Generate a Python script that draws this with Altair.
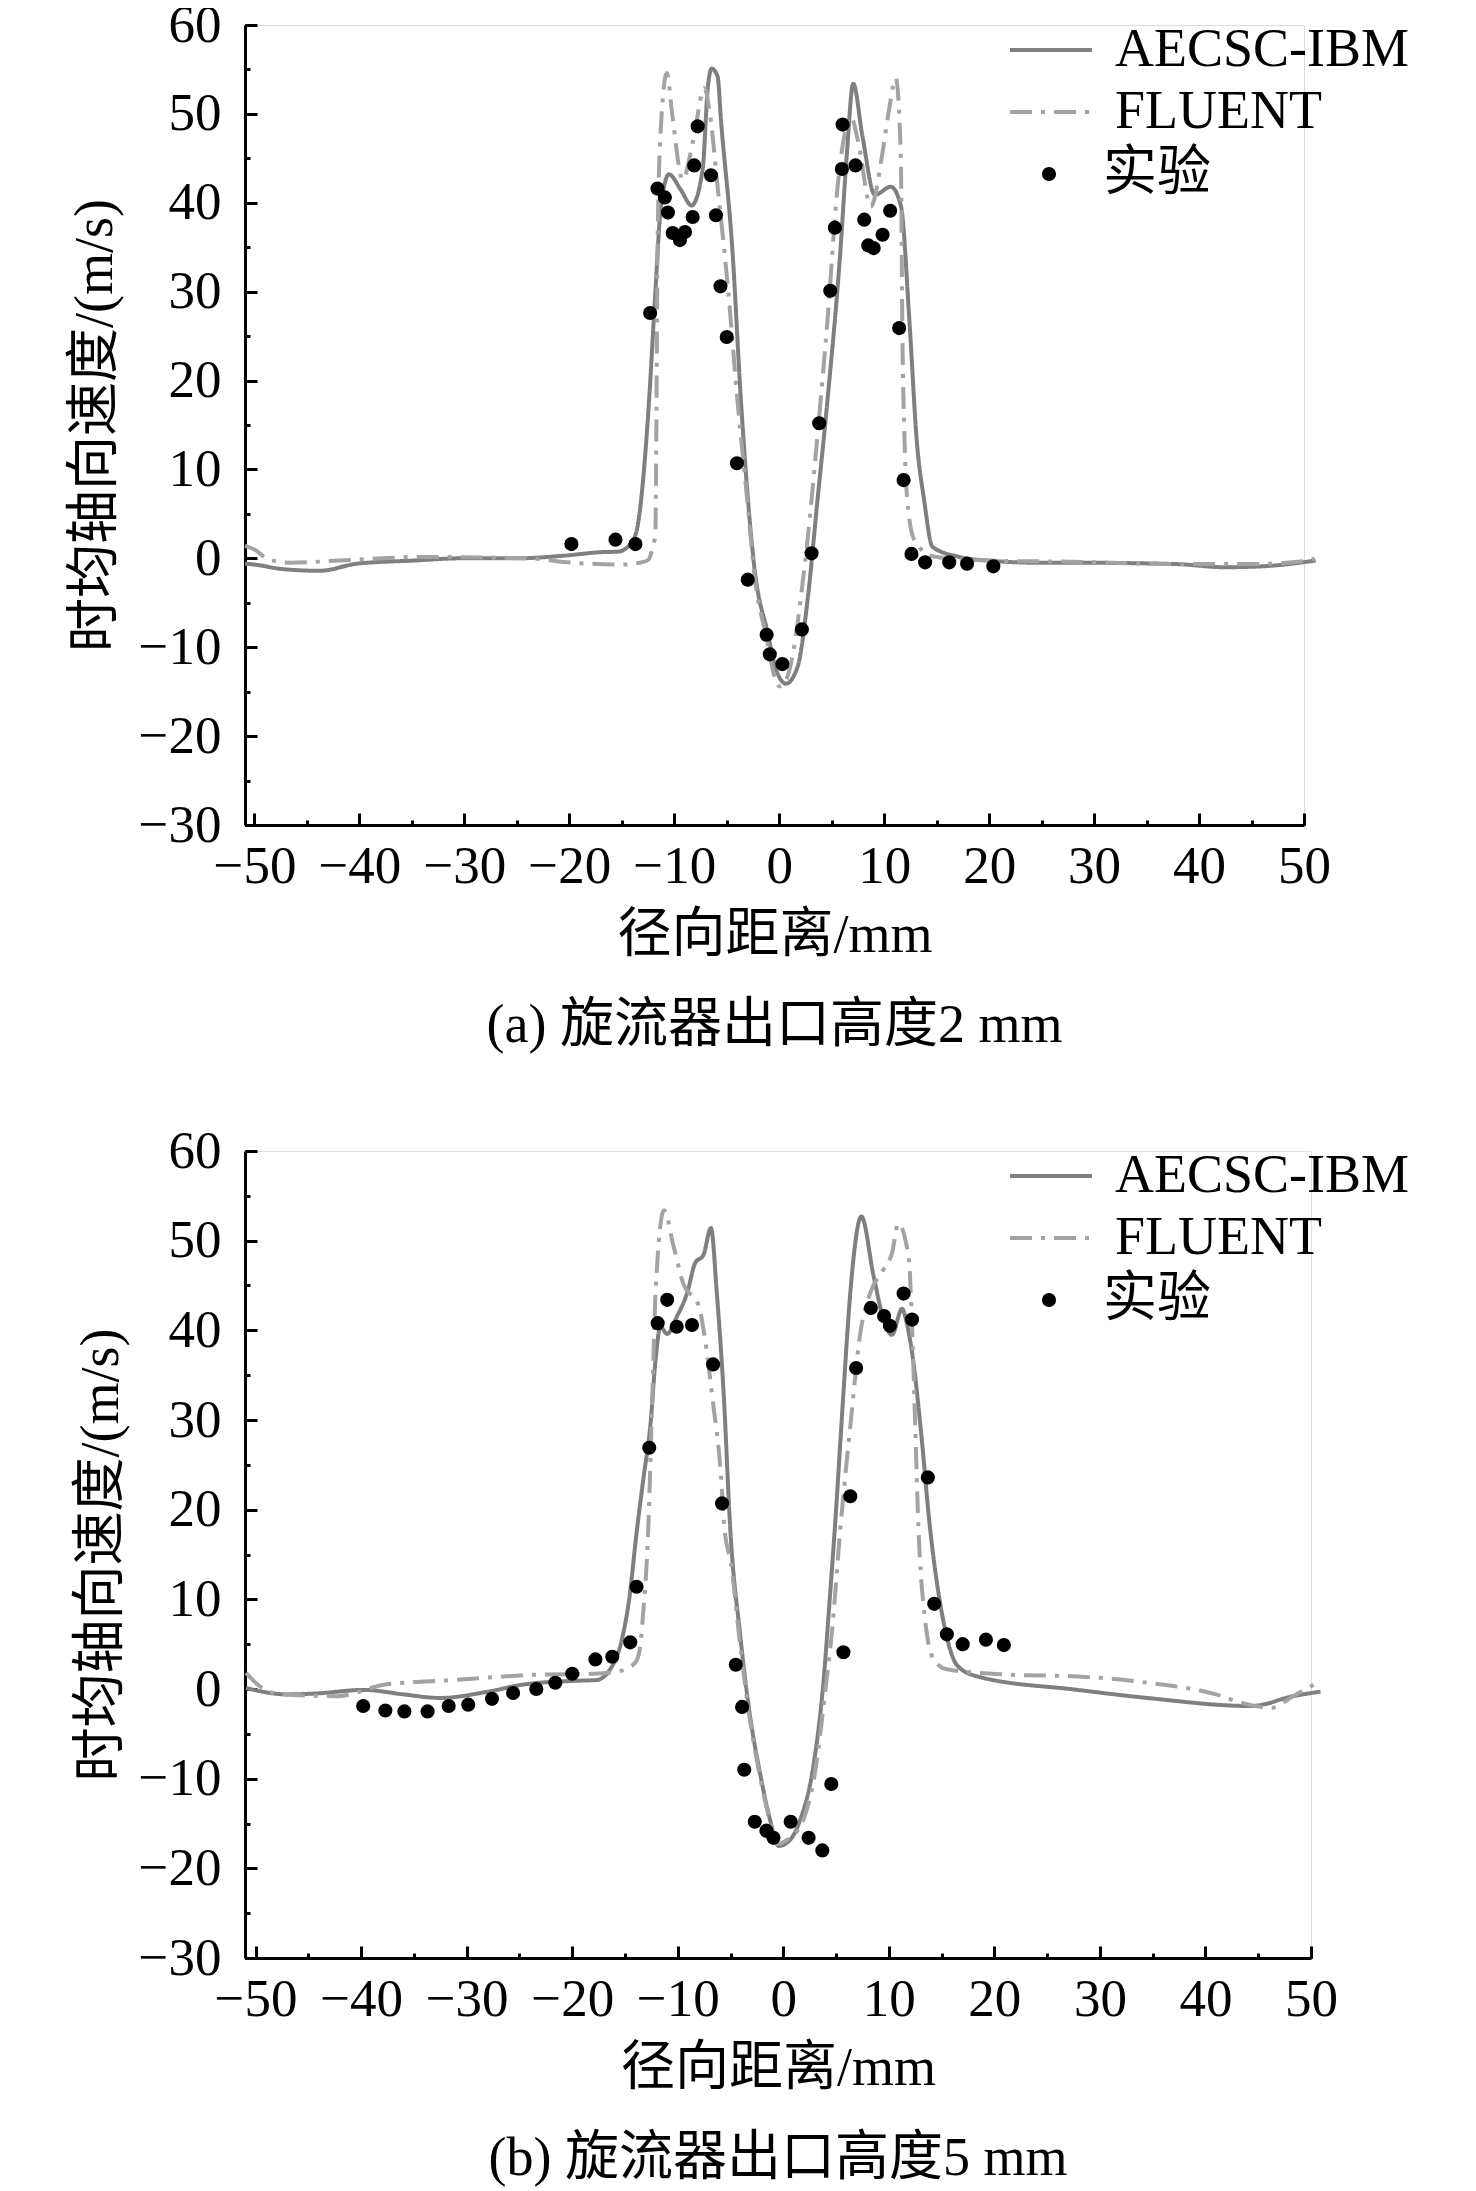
import altair as alt
import pandas as pd

# ---------------- panel (a): 2 mm ----------------
a_ibm = [(-50.9, -0.6), (-50.0, -0.7), (-47.4, -1.2), (-43.8, -1.4), (-40.2, -0.6), (-34.8, -0.25),
         (-30.3, 0.0), (-25.0, 0.0), (-20.5, 0.3), (-16.9, 0.7), (-15.4, 0.75), (-14.1, 1.7),
         (-13.5, 3.6), (-12.86, 10.3), (-12.4, 17.8), (-11.8, 30.0), (-11.27, 39.6), (-10.5, 43.2),
         (-9.4, 41.5), (-8.35, 39.7), (-7.3, 43.7), (-6.8, 53.0), (-6.44, 55.1), (-5.87, 54.2),
         (-5.55, 49.3), (-4.44, 34.3), (-3.65, 17.8), (-2.38, -0.9), (-1.1, -8.4), (-0.3, -12.5),
         (0.64, -14.1), (1.75, -12.2), (2.7, -4.7), (3.65, 6.6), (4.6, 17.8), (5.81, 34.3),
         (6.45, 45.6), (7.05, 53.4), (7.94, 47.4), (9.11, 40.9), (10.64, 41.8), (11.6, 39.6),
         (12.4, 26.8), (13.1, 13.3), (13.8, 6.6), (14.6, 1.3), (17.0, 0.2), (19.9, -0.25),
         (24.9, -0.5), (28.9, -0.5), (37.9, -0.65), (42.4, -1.0), (46.0, -0.9), (51.1, -0.25)]
a_fluent = [(-50.9, 1.4), (-50.0, 1.0), (-48.7, -0.1), (-46.5, -0.5), (-42.0, -0.25), (-33.9, 0.15),
            (-24.0, 0.0), (-19.6, -0.5), (-15.0, -0.7), (-13.3, -0.5), (-12.5, -0.2), (-12.1, 1.0),
            (-11.8, 2.8), (-11.7, 15.6), (-11.6, 34.3), (-11.3, 48.0), (-10.7, 54.6), (-10.2, 50.0),
            (-9.2, 42.6), (-8.2, 47.0), (-7.14, 52.9), (-6.6, 50.0), (-5.87, 41.8), (-4.9, 30.6),
            (-3.96, 17.5), (-3.0, 6.0), (-2.4, -1.5), (-1.2, -9.0), (-0.4, -13.5), (0.0, -14.4),
            (0.6, -13.8), (1.43, -9.9), (2.1, -4.0), (2.7, 2.1), (3.65, 13.9), (4.6, 26.8),
            (5.56, 41.8), (6.2, 47.5), (6.83, 49.7), (7.5, 47.0), (8.73, 39.6), (9.85, 45.7),
            (10.48, 50.6), (11.1, 54.0), (11.58, 45.6), (11.75, 23.7), (11.9, 15.0), (12.2, 6.6),
            (12.86, 2.1), (14.7, 0.2), (19.9, -0.25), (28.9, -0.4), (37.9, -0.65), (45.0, -0.65),
            (50.5, -0.25), (51.0, 0.0)]
a_exp = [(-19.8, 1.6), (-15.6, 2.1), (-13.7, 1.6), (-12.3, 27.6), (-11.6, 41.6), (-10.9, 40.6),
         (-10.6, 38.9), (-10.15, 36.6), (-9.46, 35.8), (-8.98, 36.7), (-8.25, 38.4), (-8.1, 44.2),
         (-7.77, 48.6), (-6.5, 43.1), (-6.03, 38.6), (-5.6, 30.6), (-5.0, 24.9), (-4.03, 10.7),
         (-3.0, -2.4), (-1.2, -8.6), (-0.9, -10.8), (0.3, -11.9), (2.16, -8.0), (3.08, 0.56),
         (3.81, 15.2), (4.86, 30.1), (5.3, 37.2), (5.97, 43.8), (6.04, 48.8), (7.27, 44.2),
         (8.1, 38.1), (8.48, 35.2), (9.0, 34.9), (9.85, 36.4), (10.57, 39.1), (11.43, 25.9),
         (11.85, 8.8), (12.6, 0.5), (13.9, -0.45), (16.2, -0.45), (17.9, -0.6), (20.4, -0.9)]

# ---------------- panel (b): 5 mm ----------------
b_ibm = [(-50.9, 0.1), (-47.0, -0.6), (-44.3, -0.5), (-39.7, -0.1), (-36.0, -0.6), (-32.5, -1.0),
         (-28.0, -0.3), (-24.6, 0.5), (-20.0, 0.9), (-17.7, 1.0), (-16.4, 2.2), (-15.3, 5.5),
         (-14.6, 10.0), (-13.9, 17.4), (-13.25, 23.5), (-12.6, 29.3), (-12.1, 36.7), (-11.65, 40.4),
         (-11.0, 39.6), (-10.1, 41.5), (-9.1, 44.2), (-8.35, 47.5), (-7.57, 48.4), (-6.85, 51.4),
         (-6.3, 44.2), (-5.65, 33.0), (-5.0, 17.4), (-4.1, 6.2), (-3.15, -3.0), (-2.2, -9.4),
         (-1.25, -14.6), (-0.45, -17.5), (0.5, -17.0), (1.6, -14.6), (2.85, -8.6), (3.8, 0.7),
         (4.4, 10.0), (4.9, 18.2), (5.7, 33.0), (6.35, 44.2), (7.4, 52.7), (8.55, 46.1),
         (9.5, 41.2), (10.3, 39.5), (11.25, 42.4), (11.7, 40.8), (12.3, 36.7), (13.0, 29.3),
         (13.9, 18.0), (15.2, 7.4), (16.5, 2.6), (18.4, 1.4), (27.9, -0.1), (34.5, -1.0),
         (44.3, -1.9), (45.6, -1.7), (47.6, -1.0), (50.9, -0.3)]
b_fluent = [(-50.9, 1.8), (-49.8, 0.5), (-47.6, -0.6), (-42.3, -0.8), (-37.7, 0.5), (-31.2, 1.0),
            (-23.3, 1.6), (-18.0, 1.7), (-15.5, 2.0), (-14.05, 2.9), (-13.6, 4.4), (-13.3, 8.1),
            (-12.8, 17.6), (-12.4, 33.0), (-12.1, 44.2), (-11.3, 53.4), (-10.4, 49.4), (-9.5, 45.3),
            (-8.0, 42.7), (-7.5, 39.7), (-6.7, 32.3), (-5.9, 23.7), (-5.6, 18.2), (-4.9, 13.6),
            (-4.1, 5.0), (-3.15, -3.5), (-2.2, -9.8), (-1.25, -14.8), (-0.6, -17.3), (0.4, -16.8),
            (1.9, -14.6), (3.1, -8.6), (4.0, 0.0), (4.6, 6.2), (5.4, 17.8), (6.35, 29.3),
            (7.3, 39.7), (8.25, 44.2), (9.5, 46.8), (10.3, 48.6), (10.9, 51.9), (11.9, 47.9),
            (12.2, 40.5), (12.5, 29.3), (12.8, 18.2), (13.4, 8.1), (14.25, 3.3), (15.5, 2.2),
            (21.4, 1.6), (27.9, 1.4), (34.5, 0.7), (41.0, -0.6), (43.6, -1.6), (46.3, -2.1),
            (48.3, -0.8), (50.9, 0.9)]
b_exp = [(-39.8, -1.9), (-37.7, -2.4), (-35.9, -2.5), (-33.7, -2.5), (-31.7, -1.9), (-29.85, -1.75),
         (-27.6, -1.1), (-25.6, -0.45), (-23.4, 0.0), (-21.6, 0.7), (-20.0, 1.7), (-17.8, 3.3),
         (-16.2, 3.6), (-14.5, 5.2), (-13.9, 11.4), (-12.7, 26.9), (-11.9, 40.8), (-11.0, 43.4),
         (-10.1, 40.4), (-8.65, 40.6), (-6.65, 36.2), (-5.8, 20.7), (-4.5, 2.7), (-3.9, -2.0),
         (-3.7, -9.0), (-2.7, -14.8), (-1.6, -15.8), (-0.93, -16.6), (0.7, -14.8), (2.4, -16.6),
         (3.7, -18.0), (4.55, -10.6), (5.7, 4.1), (6.35, 21.5), (6.9, 35.8), (8.3, 42.5),
         (9.55, 41.6), (10.1, 40.5), (11.4, 44.1), (12.2, 41.2), (13.7, 23.6), (14.3, 9.5),
         (15.5, 6.1), (17.0, 5.0), (19.2, 5.5), (20.9, 4.9)]

series_names = ["AECSC-IBM", "FLUENT"]
exp_name = "实验"
line_colors = ["#7f7f7f", "#a3a3a3"]
line_dashes = [[1, 0], [22, 9, 4, 9]]
major_x = [-50, -40, -30, -20, -10, 0, 10, 20, 30, 40, 50]
minor_x = list(range(-50, 51, 5))
major_y = [-30, -20, -10, 0, 10, 20, 30, 40, 50, 60]
minor_y = list(range(-30, 61, 5))
x_title = "径向距离/mm"
y_title = "时均轴向速度/(m/s)"
captions = ["(a) 旋流器出口高度2 mm", "(b) 旋流器出口高度5 mm"]

SERIF = "Liberation Serif, Times New Roman, serif"
CJK = "Liberation Serif, Noto Sans CJK SC, serif"
FS = 54


def panel(ibm, fluent, exp, caption, width, height, xdomain, title_x):
    lines = pd.concat([
        pd.DataFrame(ibm, columns=["x", "y"]).assign(series=series_names[0]),
        pd.DataFrame(fluent, columns=["x", "y"]).assign(series=series_names[1]),
    ])
    pts = pd.DataFrame(exp, columns=["x", "y"]).assign(kind=exp_name)

    xs = alt.Scale(domain=xdomain, nice=False, zero=False)
    ys = alt.Scale(domain=[-30, 60], nice=False, zero=False)

    common_axis = dict(grid=False, tickColor="black", tickWidth=3, domainColor="black",
                       domainWidth=3, labelColor="black", labelFont=SERIF, labelFontSize=FS - 1,
                       labelOverlap=False, labelFlush=False)

    x_major = alt.Axis(values=major_x, tickSize={"expr": "-12"}, labelPadding=27, orient="bottom",
                       title=x_title, titleFont=CJK, titleFontSize=FS, titleFontWeight="normal",
                       titleColor="black", titleX=width / 2, titleY=110, titleBaseline="middle",
                       titleAlign="center", **common_axis)
    y_major = alt.Axis(values=major_y, tickSize={"expr": "-12"}, labelPadding=36, orient="left",
                       title=y_title, titleFont=CJK, titleFontSize=FS, titleFontWeight="normal",
                       titleColor="black", titleX=title_x, titleY=height / 2, titleAngle=270,
                       titleBaseline="middle", titleAlign="center", **common_axis)
    x_minor = alt.Axis(values=minor_x, tickSize={"expr": "-5"}, labels=False, domain=False,
                       orient="bottom", title=None, grid=False, tickColor="black", tickWidth=3)
    y_minor = alt.Axis(values=minor_y, tickSize={"expr": "-5"}, labels=False, domain=False,
                       orient="left", title=None, grid=False, tickColor="black", tickWidth=3)

    line_legend = alt.Legend(orient="none", legendX=763, legendY=-6, title=None,
                             symbolType="stroke", symbolSize=82 * 82, symbolStrokeWidth=4,
                             clipHeight=62, rowPadding=0, padding=0, labelOffset=21,
                             labelFont=SERIF, labelFontSize=FS, labelColor="black",
                             labelLimit=500)
    pt_legend = alt.Legend(orient="none", legendX=777, legendY=118, title=None,
                           symbolType="circle", symbolSize=200, symbolFillColor="black",
                           symbolStrokeColor="black", symbolStrokeWidth=0,
                           clipHeight=62, rowPadding=0, padding=0, labelOffset=27,
                           labelFont=CJK, labelFontSize=FS, labelColor="black")

    minor = alt.Chart(pts).mark_point(opacity=0).encode(
        x=alt.X("x:Q", scale=xs, axis=x_minor),
        y=alt.Y("y:Q", scale=ys, axis=y_minor),
    )
    line_layer = alt.Chart(lines).mark_line(strokeWidth=4, interpolate="monotone",
                                            strokeCap="butt", clip=False).encode(
        x=alt.X("x:Q", scale=xs, axis=x_major),
        y=alt.Y("y:Q", scale=ys, axis=y_major),
        color=alt.Color("series:N", scale=alt.Scale(domain=series_names, range=line_colors),
                        legend=line_legend),
        strokeDash=alt.StrokeDash("series:N",
                                  scale=alt.Scale(domain=series_names, range=line_dashes),
                                  legend=line_legend),
    )
    pt_layer = alt.Chart(pts).mark_point(filled=True, size=200, color="black", opacity=1,
                                         strokeWidth=0).encode(
        x=alt.X("x:Q", scale=xs, axis=None),
        y=alt.Y("y:Q", scale=ys, axis=None),
        shape=alt.Shape("kind:N", scale=alt.Scale(domain=[exp_name], range=["circle"]),
                        legend=pt_legend),
    )
    return alt.layer(minor, line_layer, pt_layer).resolve_axis(
        x="independent", y="independent"
    ).properties(
        width=width, height=height,
        title=alt.TitleParams(caption, orient="bottom", anchor="middle", frame="group",
                              font=CJK, fontSize=FS, fontWeight="normal", color="black",
                              offset=37),
    )


top = panel(a_ibm, a_fluent, a_exp, captions[0], 1059, 800, [-50.9, 50], -150)
bottom = panel(b_ibm, b_fluent, b_exp, captions[1], 1066, 807, [-51.0, 50], -144)

chart = alt.vconcat(top, bottom, spacing=70).resolve_scale(
    x="independent", y="independent", color="independent",
    strokeDash="independent", shape="independent"
).properties(
    padding={"left": 59, "top": -10, "right": 0, "bottom": 0}
).configure_view(stroke=None).configure(background="white")

chart.save("out.html", embed_options={"renderer": "svg", "actions": False})
